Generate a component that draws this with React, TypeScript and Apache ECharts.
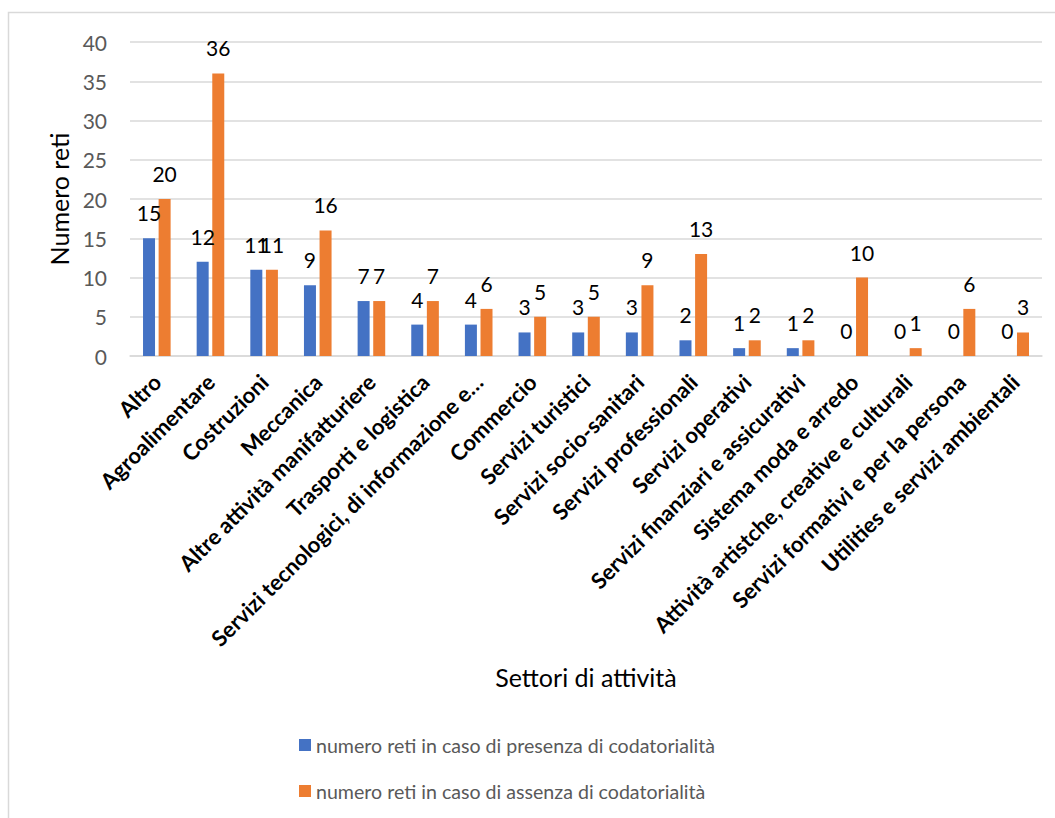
import React, { useEffect, useRef } from "react";
import * as echarts from "echarts";

const categories = [
  "Altro",
  "Agroalimentare",
  "Costruzioni",
  "Meccanica",
  "Altre attività manifatturiere",
  "Trasporti e logistica",
  "Servizi tecnologici, di informazione e…",
  "Commercio",
  "Servizi turistici",
  "Servizi socio-sanitari",
  "Servizi professionali",
  "Servizi operativi",
  "Servizi finanziari e assicurativi",
  "Sistema moda e arredo",
  "Attività artistche, creative e culturali",
  "Servizi formativi e per la persona",
  "Utilities e servizi ambientali",
];

const presenza = [15, 12, 11, 9, 7, 4, 4, 3, 3, 3, 2, 1, 1, 0, 0, 0, 0];
const assenza = [20, 36, 11, 16, 7, 7, 6, 5, 5, 9, 13, 2, 2, 10, 1, 6, 3];

const seriesNames = [
  "numero reti in caso di presenza di codatorialità",
  "numero reti in caso di assenza di codatorialità",
];

const yTicks = { min: 0, max: 40, interval: 5 };

const FONT = "Lato, 'Noto Sans', sans-serif";

export default function App() {
  const ref = useRef<HTMLDivElement>(null);
  useEffect(() => {
    if (!ref.current) return;
    const chart = echarts.init(ref.current, undefined, { renderer: "svg" });
    const labelStyle = {
      show: true,
      position: "top" as const,
      distance: 15,
      color: "#000000",
      fontSize: 21,
      fontFamily: FONT,
    };
    chart.setOption({
      animation: false,
      backgroundColor: "#ffffff",
      textStyle: { fontFamily: FONT },
      graphic: [
        {
          type: "rect",
          shape: { x: 8.5, y: 12.5, width: 1060, height: 820 },
          style: { fill: "none", stroke: "#d9d9d9", lineWidth: 1.5 },
          silent: true,
        },
      ],
      grid: { left: 130, right: 13, top: 42, bottom: 462 },
      legend: {
        orient: "vertical",
        left: 299,
        top: 735,
        padding: 0,
        itemWidth: 12,
        itemHeight: 12,
        itemGap: 26,
        icon: "rect",
        textStyle: { color: "#595959", fontSize: 19.6, fontFamily: FONT },
        data: seriesNames,
      },
      xAxis: {
        type: "category",
        data: categories,
        name: "Settori di attività",
        nameLocation: "middle",
        nameGap: 308,
        nameTextStyle: { color: "#000000", fontSize: 25, fontFamily: FONT },
        axisLine: { lineStyle: { color: "#d9d9d9", width: 1.5 } },
        axisTick: { show: false },
        axisLabel: {
          interval: 0,
          rotate: 45,
          margin: 22,
          color: "#000000",
          fontWeight: "bold",
          fontSize: 22,
          fontFamily: FONT,
        },
      },
      yAxis: {
        type: "value",
        min: yTicks.min,
        max: yTicks.max,
        interval: yTicks.interval,
        name: "Numero reti",
        nameLocation: "middle",
        nameGap: 57,
        nameTextStyle: { color: "#000000", fontSize: 25, fontFamily: FONT },
        axisLine: { show: false },
        axisTick: { show: false },
        axisLabel: { color: "#595959", fontSize: 21, margin: 23, fontFamily: FONT },
        splitLine: { lineStyle: { color: "#d9d9d9", width: 1.5 } },
      },
      series: [
        {
          name: seriesNames[0],
          type: "bar",
          data: presenza,
          barWidth: 12,
          barGap: "30%",
          itemStyle: { color: "#4472C4" },
          label: labelStyle,
        },
        {
          name: seriesNames[1],
          type: "bar",
          data: assenza,
          barWidth: 12,
          itemStyle: { color: "#ED7D31" },
          label: labelStyle,
        },
      ],
    });
    return () => chart.dispose();
  }, []);
  return (
    <div
      ref={ref}
      style={{ position: "absolute", left: 0, top: 0, width: 1055, height: 818 }}
    />
  );
}
